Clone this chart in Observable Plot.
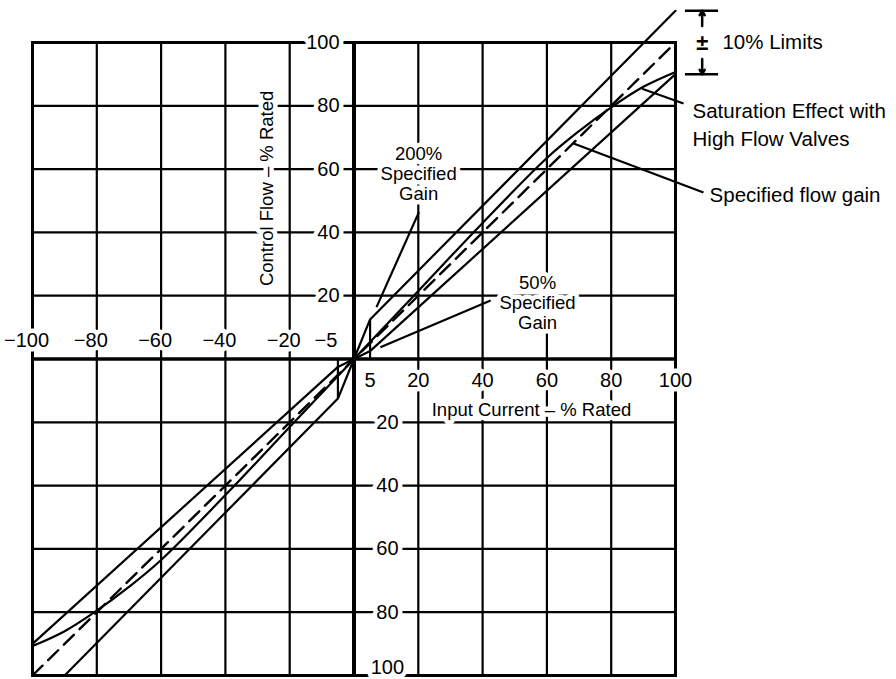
<!DOCTYPE html>
<html><head><meta charset="utf-8">
<script src="https://cdn.jsdelivr.net/npm/d3@7"></script>
<script src="https://cdn.jsdelivr.net/npm/@observablehq/plot@0.6"></script>
<style>body{margin:0;background:#fff}</style>
</head><body><div id="chart"></div>
<script>
// grid / tick values (% rated)
const gridTicks = [-80, -60, -40, -20, 20, 40, 60, 80];
const negXTicks = [-100, -80, -60, -40, -20];
const posXTicks = [5, 20, 40, 60, 80, 100];
const posYTicks = [20, 40, 60, 80, 100];
const negYTicks = [-20, -40, -60, -80];
const bottomYTick = [-100];
// null region (±5% input current)
const nullX = [-5, 5];
const nullTop = [-12.5, 12.5];
// specified flow gain (dashed)
const specX = [-100, 100];
const specY = [-100, 100];
// ±10% limit envelopes (with 50%–200% gain in null region)
const upperPosX = [0, 5, 100];   const upperPosY = [0, 12.5, 110];
const lowerPosX = [0, 5, 100];   const lowerPosY = [0, 2.5, 90];
const upperNegX = [0, -5, -100]; const upperNegY = [0, -2.5, -90];
const lowerNegX = [0, -5, -90];  const lowerNegY = [0, -12.5, -100];
// saturation effect with high flow valves
const satX = [-100, -90, -80, -70, -60, -40, -20, 0, 20, 40, 60, 70, 80, 90, 100];
const satY = [-90.7, -86, -79.5, -72, -63.5, -43, -21.5, 0, 21.5, 43, 63.5, 72, 79.5, 86, 90.7];
// limit values shown by the bracket
const limitMarks = [110, 90];

const zip = (name, xs, ys) => xs.map((x, i) => ({series: name, x, y: ys[i]}));
const limits = [
  ...zip("upperPos", upperPosX, upperPosY),
  ...zip("lowerPos", lowerPosX, lowerPosY),
  ...zip("upperNeg", upperNegX, upperNegY),
  ...zip("lowerNeg", lowerNegX, lowerNegY)
];
const spec = zip("spec", specX, specY);
const sat = zip("sat", satX, satY);

const halo = {fill: "black", stroke: "white", strokeWidth: 9, strokeLinejoin: "round"};
const F = "'Liberation Sans', Arial, Helvetica, sans-serif";

const chart = Plot.plot({
  width: 896, height: 679,
  marginLeft: 32, marginRight: 221, marginTop: 42, marginBottom: 4,
  x: {domain: [-100, 100], axis: null},
  y: {domain: [-100, 100], axis: null},
  style: {fontFamily: F, background: "white", overflow: "visible"},
  marks: [
    Plot.ruleX(gridTicks, {stroke: "black", strokeWidth: 2.2}),
    Plot.ruleY(gridTicks, {stroke: "black", strokeWidth: 2.2}),
    Plot.frame({stroke: "black", strokeWidth: 3}),
    Plot.ruleX([0], {stroke: "black", strokeWidth: 4}),
    Plot.ruleY([0], {stroke: "black", strokeWidth: 3.5}),
    Plot.ruleX(nullX, {x: d => d, y1: () => 0, y2: nullTop, stroke: "black", strokeWidth: 2.2}),
    Plot.line(limits, {x: "x", y: "y", z: "series", stroke: "black", strokeWidth: 2.2}),
    Plot.line(sat, {x: "x", y: "y", curve: "catmull-rom", stroke: "black", strokeWidth: 2.2}),
    Plot.line(spec, {x: "x", y: "y", stroke: "black", strokeWidth: 2.4, strokeDasharray: "14,8"}),
    // leader lines
    Plot.link([0], {x1: () => 7.0, y1: () => 16.4, x2: () => 20.2, y2: () => 46.4, stroke: "black", strokeWidth: 2.2}),
    Plot.link([0], {x1: () => 8.2, y1: () => 3.7, x2: () => 42.5, y2: () => 18.5, stroke: "black", strokeWidth: 2.2}),
    Plot.link([0], {x1: () => 68.3, y1: () => 68.1, x2: () => 108.7, y2: () => 52.6, stroke: "black", strokeWidth: 2.2}),
    Plot.link([0], {x1: () => 89.6, y1: () => 85.4, x2: () => 102.5, y2: () => 80.7, stroke: "black", strokeWidth: 2.2}),
    // ±10% bracket
    Plot.ruleY(limitMarks, {y: d => d, x1: () => 103.1, x2: () => 113.4, stroke: "black", strokeWidth: 2.5}),
    Plot.arrow(limitMarks, {x: () => 108.3, y1: d => d > 100 ? 105.2 : 94.8, y2: d => d, headLength: 9, stroke: "black", strokeWidth: 2.5}),
    // tick labels
    Plot.text(negXTicks, {x: d => d, y: () => 5.85, dx: -6, text: d => "\u2212" + Math.abs(d), fontSize: 20, ...halo}),
    Plot.text([-5], {x: d => d, y: () => 5.85, dx: -12, text: d => "\u2212" + Math.abs(d), fontSize: 20, ...halo}),
    Plot.text(posXTicks, {x: d => d, y: () => -6.8, text: d => String(d), fontSize: 20, ...halo}),
    Plot.text(posYTicks, {x: () => -4.5, y: d => d, text: d => String(d), textAnchor: "end", fontSize: 20, ...halo}),
    Plot.text(negYTicks, {x: () => 10.4, y: d => d, text: d => String(Math.abs(d)), fontSize: 20, ...halo}),
    Plot.text(bottomYTick, {x: () => 10.4, y: d => d, dy: -8, text: d => String(Math.abs(d)), fontSize: 20, ...halo}),
    // axis titles
    Plot.text(["Control Flow \u2013 % Rated"], {x: () => -26.9, y: () => 53.9, text: d => d, rotate: -90, fontSize: 18.5, ...halo}),
    Plot.text(["Input Current \u2013 % Rated"], {x: () => 55.2, y: () => -16.0, text: d => d, fontSize: 18.5, ...halo}),
    // annotations
    Plot.text(["200%\nSpecified\nGain"], {x: () => 20.1, y: () => 58.6, text: d => d, fontSize: 18.5, lineHeight: 1.1, ...halo}),
    Plot.text(["50%\nSpecified\nGain"], {x: () => 57.1, y: () => 17.9, text: d => d, fontSize: 18.5, lineHeight: 1.1, ...halo}),
    Plot.text(["Saturation Effect with\nHigh Flow Valves"], {x: () => 105.3, y: () => 74.6, text: d => d, textAnchor: "start", fontSize: 20.5, lineHeight: 1.38, ...halo}),
    Plot.text(["Specified flow gain"], {x: () => 110.6, y: () => 51.7, text: d => d, textAnchor: "start", fontSize: 20.5, ...halo}),
    Plot.text(["\u00b1"], {x: () => 108.3, y: () => 100, text: d => d, fontSize: 22, fontWeight: "bold", ...halo}),
    Plot.text(["10% Limits"], {x: () => 114.6, y: () => 100, text: d => d, textAnchor: "start", fontSize: 20.5, ...halo})
  ]
});
document.getElementById("chart").appendChild(chart);
</script>
</body></html>
